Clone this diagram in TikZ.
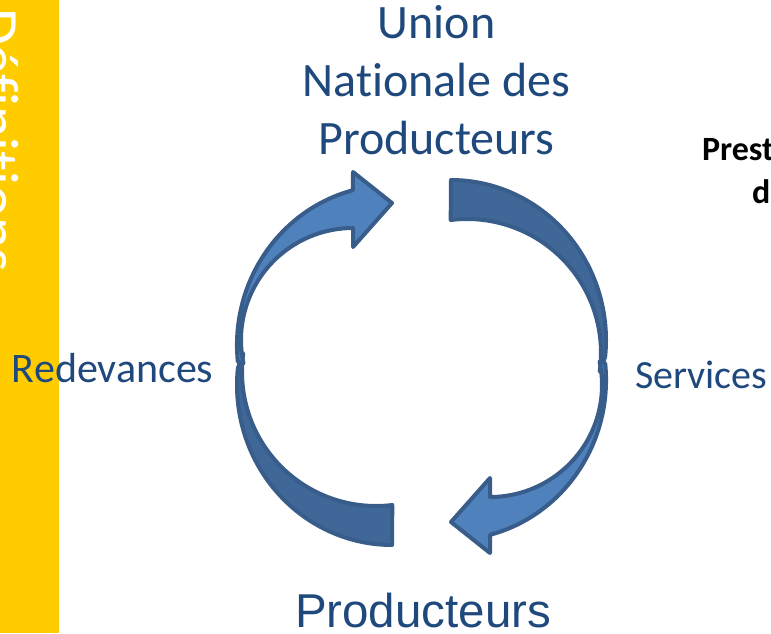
\documentclass[tikz,border=0pt]{standalone}
\usepackage{fontspec}
\setmainfont{Carlito}[Ligatures=NoCommon]
\newfontfamily\arialFont{Liberation Sans}
\usetikzlibrary{calc}
\newcommand{\outerRx}{155}
\newcommand{\outerRy}{160}
\newcommand{\headRadius}{112}
\newcommand{\tailRadius}{134}
\newcommand{\lineWidth}{4pt}
\newcommand{\barWidthPx}{59}
\definecolor{textBlue}{RGB}{31,73,125}
\definecolor{barYellow}{RGB}{255,204,0}
\definecolor{arrowLight}{RGB}{79,129,189}
\definecolor{arrowDark}{RGB}{63,104,153}
\definecolor{arrowLine}{RGB}{56,93,138}
\tikzstyle{panel}=[draw=none, inner sep=0, outer sep=0]
\tikzstyle{band}=[draw=arrowLine, line width=\lineWidth, line join=round]
\tikzstyle{bandLight}=[band, fill=arrowLight]
\tikzstyle{bandDark}=[band, fill=arrowDark]
\tikzstyle{textNode}=[panel, text=textBlue]

\begin{document}
\begin{tikzpicture}[x=1pt, y=1pt]

% Frame
\useasboundingbox (0,0) rectangle (771,-633);
\fill[white] (0,0) rectangle (771,-633);

% Side bar
\fill[barYellow] (0,0) rectangle (\barWidthPx,-633);
\begin{scope}
  \clip (0,0) rectangle (\barWidthPx,-633);
  \node[panel, text=white, font=\fontsize{60}{72}\selectfont, rotate=-90, anchor=base west] (sideTitle) at (-22,-8) {Définitions};
\end{scope}

% Curved arrows
\foreach \r in {0,180} {
  \begin{scope}[rotate around={\r:(421.5,-362.5)}]
    \coordinate (tailEnd) at (392,-545);
    \coordinate (headEnd) at (352.9,-190.2);
    \coordinate (headHub) at (353,-340);
    \coordinate (tailHub) at (376,-372);
    % back of the band
    \draw[bandDark] (tailEnd)
      arc[start angle=270, end angle=174, x radius=\outerRx, y radius=\outerRy]
      -- ($(tailHub)+(172:\tailRadius)$)
      arc[start angle=172, end angle=277, radius=\tailRadius] -- cycle;
    % front of the band and head
    \draw[bandLight] (headEnd)
      arc[start angle=104.6, end angle=186, x radius=\outerRx, y radius=\outerRy]
      -- ($(headHub)+(192:\headRadius)$)
      arc[start angle=192, end angle=90, radius=\headRadius]
      -- (353,-247) -- (392,-203) -- (353,-172) -- cycle;
  \end{scope}
}

% Labels
\node[textNode, align=center, font=\fontsize{48}{58}\selectfont, anchor=base] (union) at (436.5,-154) {Union\\Nationale des\\Producteurs};
\node[textNode, font=\fontsize{42}{50}\selectfont, anchor=base west] (redevances) at (12,-382) {Redevances};
\node[textNode, font=\fontsize{40}{48}\selectfont, anchor=base west] (services) at (635,-388) {Services};
\node[textNode, font=\arialFont\fontsize{47.5}{57}\selectfont, anchor=base west] (producteurs) at (295,-627) {Producteurs};
\node[panel, font=\bfseries\fontsize{34}{41}\selectfont, anchor=base west] (prest) at (702,-160) {Prest};
\node[panel, font=\bfseries\fontsize{34}{41}\selectfont, anchor=base west] (prestD) at (752,-203) {d};

\end{tikzpicture}
\end{document}
